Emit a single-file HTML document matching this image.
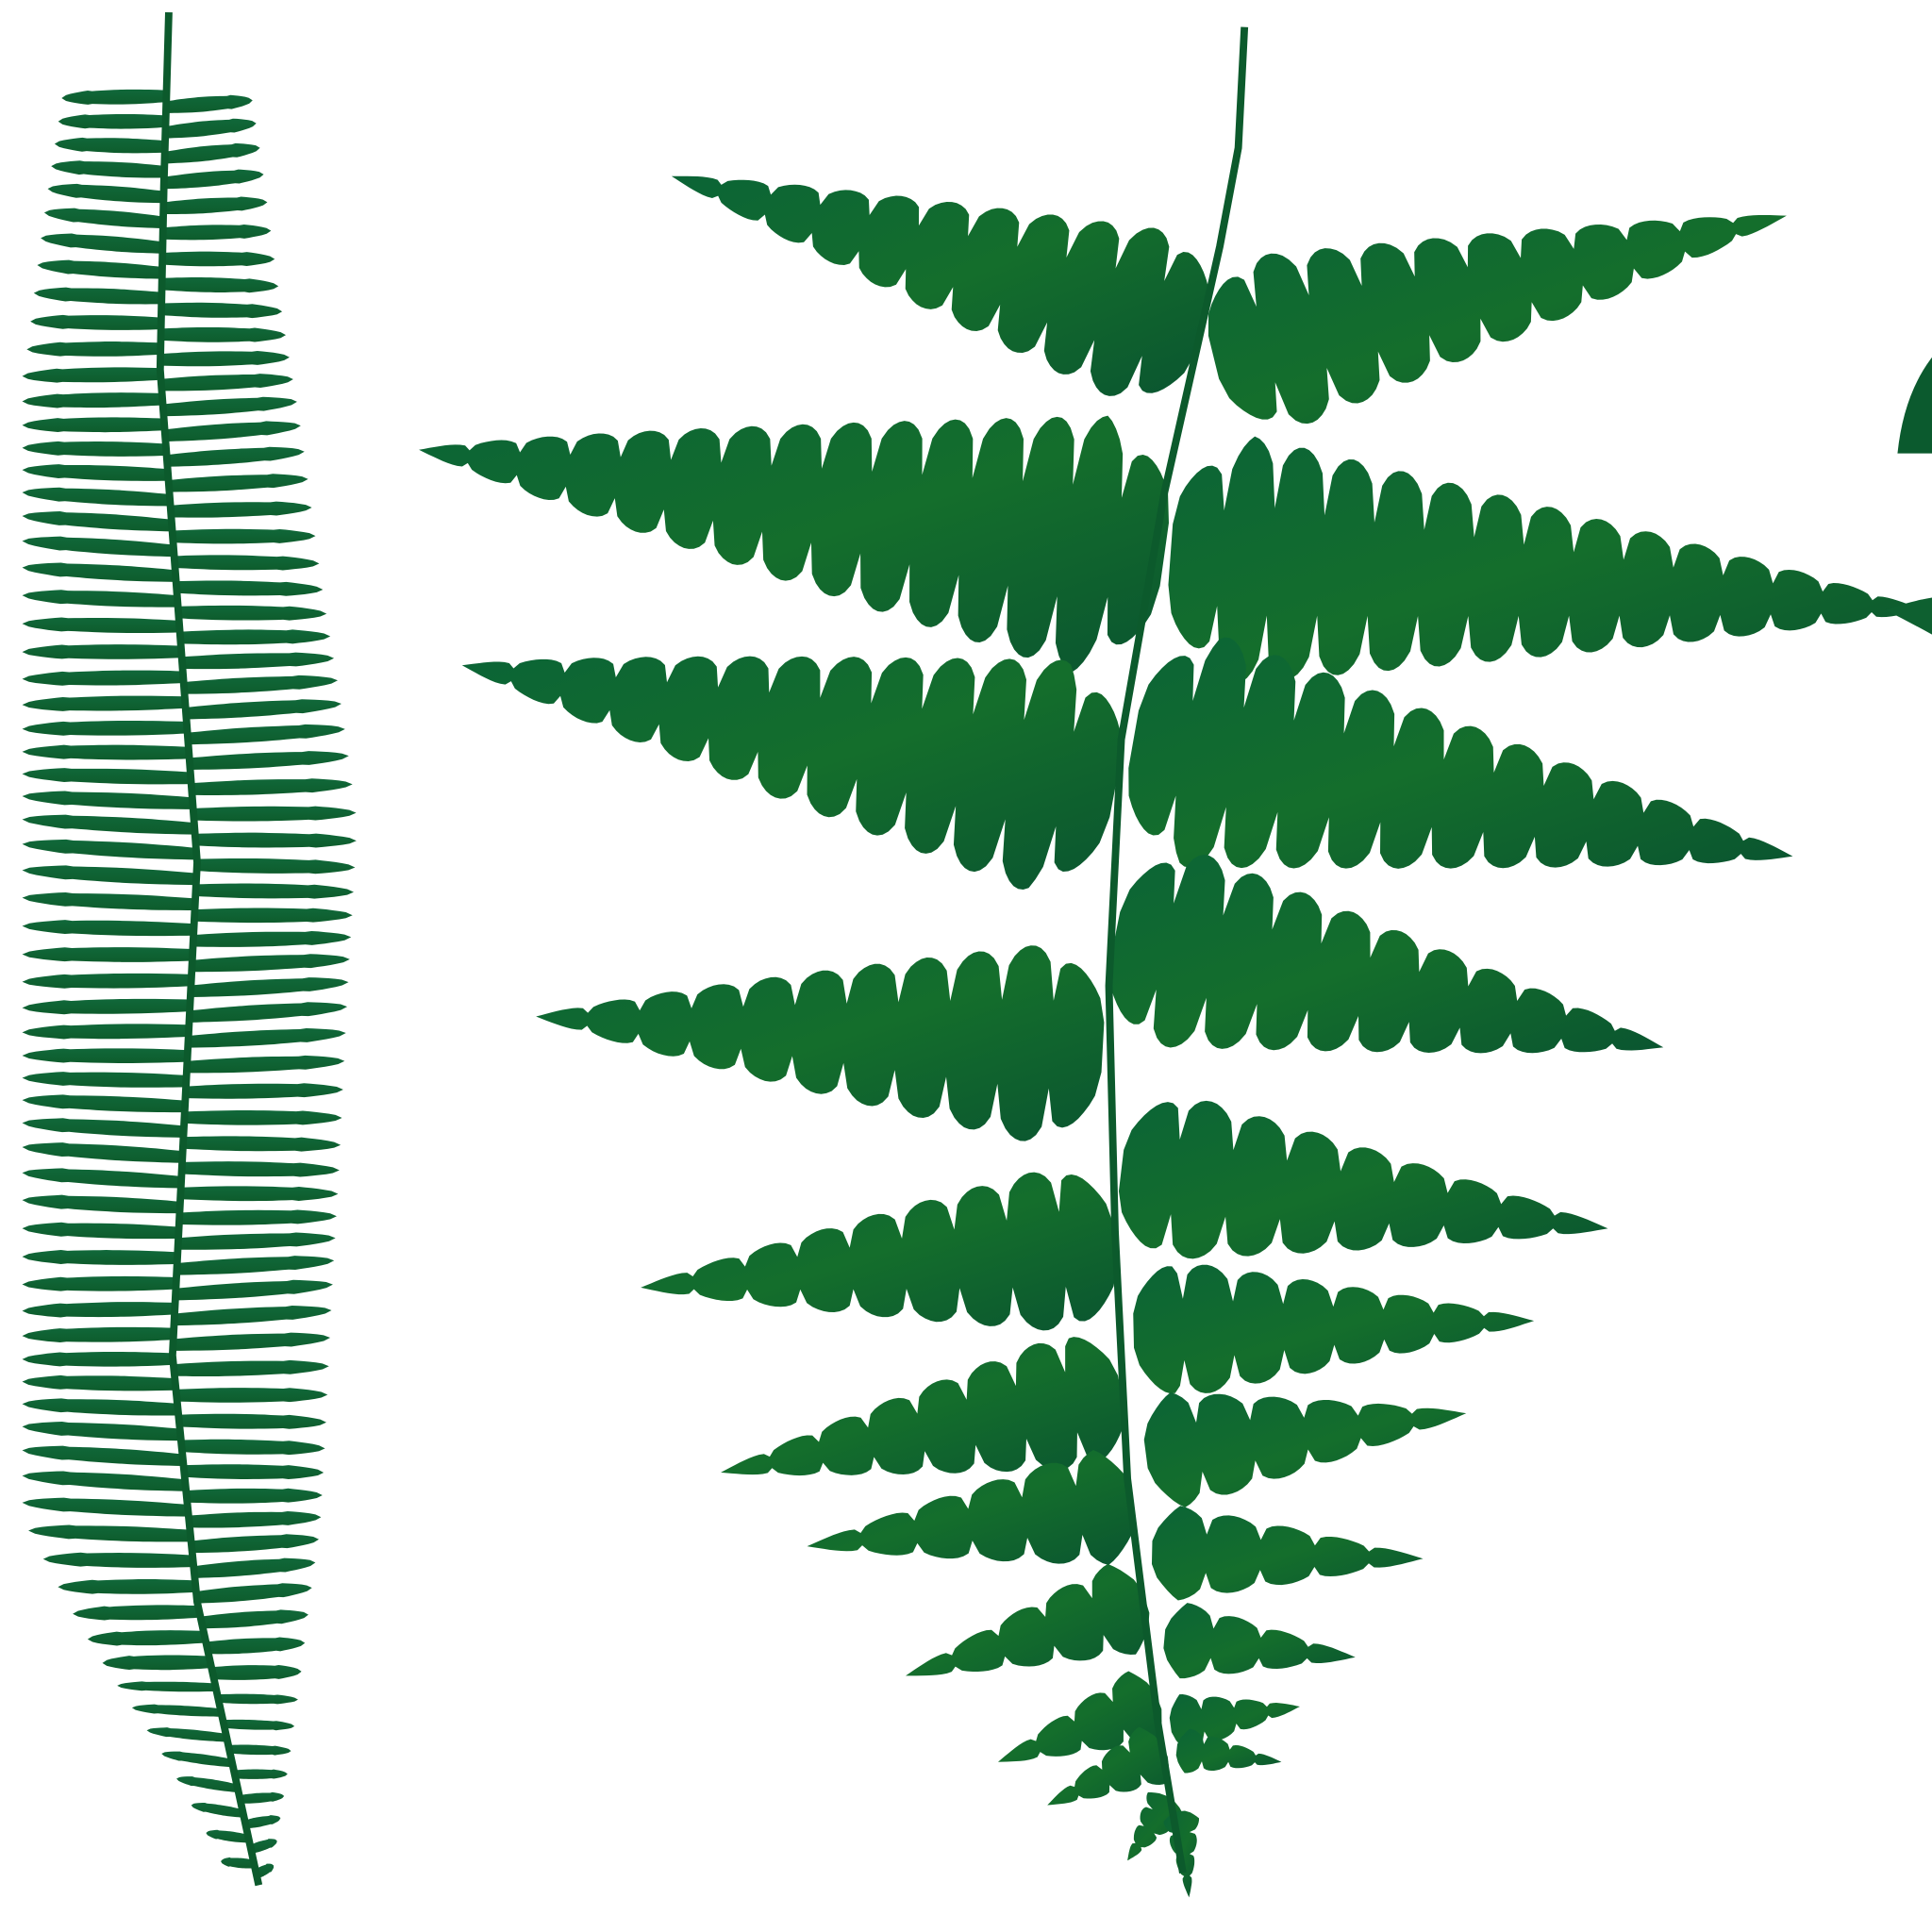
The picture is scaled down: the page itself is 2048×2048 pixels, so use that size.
<!DOCTYPE html>
<html><head><meta charset="utf-8"><style>
html,body{margin:0;padding:0;background:#fff;width:2048px;height:2048px;overflow:hidden}
svg{display:block}
</style></head><body>
<svg id="art" width="2048" height="2048" viewBox="0 0 1568 1568" xmlns="http://www.w3.org/2000/svg">
<defs>
<linearGradient id="g1" x1="0" y1="0" x2="1" y2="1"><stop offset="0" stop-color="#0b6436"/><stop offset="0.5" stop-color="#146e2c"/><stop offset="1" stop-color="#0a5530"/></linearGradient>
<linearGradient id="g2" x1="0" y1="0" x2="0" y2="1"><stop offset="0" stop-color="#10683a"/><stop offset="1" stop-color="#0e5c2c"/></linearGradient>
</defs>
<g id="leftFern"></g>
<g id="rightFern"></g>
<path d="M1540,368 Q1545,320 1568,290 L1568,368 Z" fill="#0b5a2e"/>
<path d="M1530,495 Q1550,488 1568,485 L1568,515 Q1550,505 1530,495Z" fill="#0e6030"/>
</svg>
<script>
const NS='http://www.w3.org/2000/svg';
const rightLeft=[[975,270,545,143,80],[945,450,340,365,115],[905,640,375,540,105],[895,850,435,825,90],[905,1010,520,1045,75],[910,1130,585,1195,62],[920,1220,655,1255,52],[930,1300,735,1360,42],[940,1380,810,1430,34],[945,1420,850,1465,28],[950,1460,915,1510,20]];
const rightRight=[[985,290,1450,175,80],[950,450,1560,495,110],[920,600,1455,695,105],[905,760,1350,850,90],[910,950,1305,997,75],[920,1080,1245,1072,62],[930,1180,1190,1147,52],[935,1260,1155,1265,42],[945,1330,1100,1345,34],[950,1400,1055,1385,26],[955,1420,1040,1430,20],[958,1470,965,1540,16]];
const stemPts=[[1010,22],[1005,120],[990,200],[945,400],[910,600],[900,800],[905,1000],[915,1200],[940,1400],[960,1520]];
const lStem=[[137,10],[133,150],[130,300],[145,500],[160,700],[150,900],[140,1100],[160,1300],[210,1530]];
function sx(pts,y){for(let i=0;i<pts.length-1;i++){const a=pts[i],b=pts[i+1];if(y>=a[1]&&y<=b[1]){return a[0]+(b[0]-a[0])*(y-a[1])/(b[1]-a[1]);}}return pts[pts.length-1][0];}
function leaf(bx,by,tx,ty,w,lobes,depth,strip){
  const dx=tx-bx,dy=ty-by,L=Math.hypot(dx,dy),ux=dx/L,uy=dy/L,nx=-uy,ny=ux;
  const N=Math.max(24,lobes*10),top=[],bot=[];
  for(let i=0;i<=N;i++){const t=i/N;
    let h;
    if(strip){h=w*(t<0.75?(0.8+0.2*Math.sin(t*4)):Math.sqrt(Math.max(0,1-(t-0.75)/0.25))*0.95);}
    else h=w*Math.pow(1-t,0.85)*Math.min(1,t*5+0.5);
    const l=(1-depth)+depth*Math.pow(Math.abs(Math.sin(t*lobes*Math.PI)),0.35);
    const hh=h*l;
    const px=bx+dx*t,py=by+dy*t;
    top.push([px+nx*hh,py+ny*hh]);bot.push([px-nx*hh,py-ny*hh]);}
  const p=top.concat(bot.reverse());
  return 'M'+p.map(q=>q[0].toFixed(1)+','+q[1].toFixed(1)).join('L')+'Z';
}
const RF=document.getElementById('rightFern');
function add(g,d,fill,name){const e=document.createElementNS(NS,'path');e.setAttribute('d',d);e.setAttribute('fill',fill);


g.appendChild(e);}
rightLeft.forEach((p,i)=>{const L=Math.hypot(p[2]-p[0],p[3]-p[1]);add(RF,leaf(p[0],p[1],p[2],p[3],p[4],Math.max(4,Math.round(L/42)),0.55,false),'url(#g1)','pinna-left-'+i);});
rightRight.forEach((p,i)=>{const L=Math.hypot(p[2]-p[0],p[3]-p[1]);add(RF,leaf(p[0],p[1],p[2],p[3],p[4],Math.max(4,Math.round(L/42)),0.55,false),'url(#g1)','pinna-right-'+i);});
const st=document.createElementNS(NS,'polyline');st.setAttribute('points',stemPts.map(q=>q.join(',')).join(' '));st.setAttribute('fill','none');st.setAttribute('stroke','#0c5a2c');st.setAttribute('stroke-width','6');


RF.appendChild(st);
const LF=document.getElementById('leftFern');
for(let y=78;y<1530;y+=20.5){
  const x=sx(lStem,y);const f=(y-78)/1450;
  let lt=f<0.15?20+(1-f/0.15)*30:(f<0.8?18:18+(f-0.8)/0.2*170);
  let rt=f<0.4?205+f/0.4*85:(f<0.8?290-(f-0.4)/0.4*30:260-(f-0.8)/0.2*40);
  const w=f>0.88?4:6;
  add(LF,leaf(x,y,lt,y-3+5*Math.sin(y/40),w,1,0,true),'url(#g2)','left-pinna-l');
  add(LF,leaf(x,y+9,rt,y+9-3+5*Math.cos(y/37),w,1,0,true),'url(#g2)','left-pinna-r');
}
const ls=document.createElementNS(NS,'polyline');ls.setAttribute('points',lStem.map(q=>q.join(',')).join(' '));ls.setAttribute('fill','none');ls.setAttribute('stroke','#0c5a2c');ls.setAttribute('stroke-width','6');


LF.appendChild(ls);
</script>
</body></html>
